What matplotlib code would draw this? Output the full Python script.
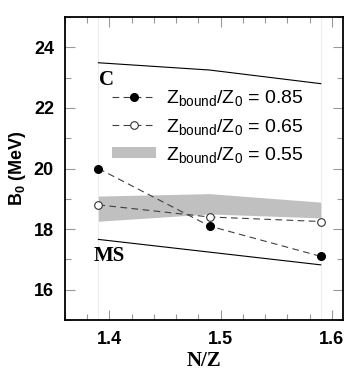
import matplotlib
matplotlib.use("Agg")
import matplotlib.pyplot as plt
from matplotlib.ticker import MultipleLocator
from matplotlib.patches import Patch

plt.rcParams['mathtext.fontset'] = 'custom'
plt.rcParams['mathtext.rm'] = 'Liberation Sans'
plt.rcParams['mathtext.it'] = 'Liberation Sans:italic'
plt.rcParams['mathtext.bf'] = 'Liberation Sans:bold'

nz = [1.39, 1.49, 1.59]
b_085 = [20.0, 18.1, 17.1]
b_065 = [18.8, 18.4, 18.25]
band_low = [18.26, 18.5, 18.37]
band_high = [19.09, 19.17, 18.89]
c_line = [23.49, 23.25, 22.8]
ms_line = [17.66, 17.24, 16.82]

fig = plt.figure(figsize=(3.54, 3.82), dpi=100)
ax = fig.add_axes([0.1836, 0.1623, 0.969 - 0.1836, 0.9555 - 0.1623])

for x in [nz[0], nz[2]]:
    ax.axvline(x, color='0.93', lw=0.8, zorder=0)

ax.fill_between(nz, band_low, band_high, color='#c0c0c0', lw=0, zorder=1)
ax.plot(nz, c_line, color='black', lw=0.8, zorder=2)
ax.plot(nz, ms_line, color='black', lw=0.8, zorder=2)
l1, = ax.plot(nz, b_085, ls=(0, (6, 4)), color='0.25', lw=0.8, marker='o', ms=5.5,
              mfc='black', mec='black', zorder=3)
l2, = ax.plot(nz, b_065, ls=(0, (6, 4)), color='0.25', lw=0.8, marker='o', ms=5.5,
              mfc='white', mec='0.2', mew=0.8, zorder=3)

ax.text(1.3905, 22.75, 'C', family='Liberation Serif', fontweight='bold', fontsize=15)
ax.text(1.3855, 16.95, 'MS', family='Liberation Serif', fontweight='bold', fontsize=15)

band_handle = Patch(facecolor='#c0c0c0', edgecolor='none')
leg = ax.legend([l1, l2, band_handle],
                [r'Z$_{\rm bound}$/Z$_0$ = 0.85', r'Z$_{\rm bound}$/Z$_0$ = 0.65',
                 r'Z$_{\rm bound}$/Z$_0$ = 0.55'],
                loc='upper left', bbox_to_anchor=(0.14, 0.79), frameon=False,
                fontsize=14, handlelength=2.3, handletextpad=0.5, labelspacing=0.42,
                borderaxespad=0, handleheight=0.5)
plt.setp(leg.get_texts(), family='Liberation Sans')

ax.set_xlim(1.36, 1.61)
ax.set_ylim(15, 25)
ax.xaxis.set_major_locator(MultipleLocator(0.1))
ax.xaxis.set_minor_locator(MultipleLocator(0.02))
ax.yaxis.set_major_locator(MultipleLocator(2))
ax.yaxis.set_minor_locator(MultipleLocator(1))
ax.tick_params(which='both', direction='in', top=True, right=True, color='0.6')
ax.tick_params(which='major', length=7, width=0.8, pad=8)
ax.tick_params(which='minor', length=4, width=0.8)
for s in ax.spines.values():
    s.set_linewidth(1.3)
for lab in ax.get_xticklabels() + ax.get_yticklabels():
    lab.set_family('Liberation Sans')
    lab.set_fontweight('bold')
    lab.set_fontsize(13)

ax.set_xlabel('N/Z', family='Liberation Serif', fontweight='bold', fontsize=15, labelpad=2)
ax.set_ylabel(r'B$_\mathbf{0}$ (MeV)', family='Liberation Sans', fontweight='bold', fontsize=13, labelpad=4)

fig.savefig('out.png', dpi=100)
